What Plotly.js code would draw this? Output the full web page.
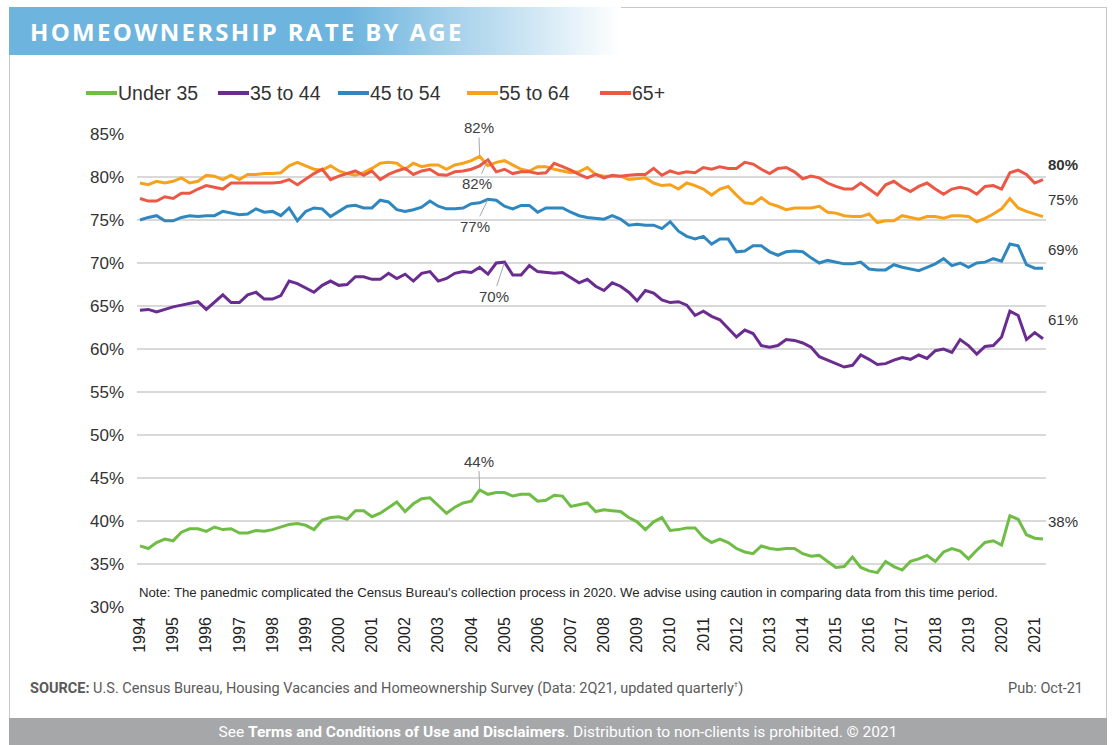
<!DOCTYPE html>
<html>
<head>
<meta charset="utf-8">
<script src="https://cdn.plot.ly/plotly-3.0.1.min.js"></script>
<style>
  html, body { margin:0; padding:0; background:#fff; width:1116px; height:745px; overflow:hidden; }
  #chart { position:absolute; left:0; top:0; width:1116px; height:745px; }
  .frame { position:absolute; background:#c9c9c9; z-index:5; }
  #header { position:absolute; left:9px; top:7px; width:612px; height:48px; z-index:6;
    background:linear-gradient(to right, #6db4de 0%, #6db4de 55%, #ffffff 100%); }
  #header span { position:absolute; left:21px; top:8px; color:#fff; font-family:"Open Sans", sans-serif;
    font-weight:700; font-size:24px; letter-spacing:2.3px; white-space:nowrap; }
  #source { position:absolute; left:30px; top:680px; font-family:Roboto, sans-serif; font-size:14.5px; color:#5a5a5a; z-index:6; white-space:nowrap; }
  #pub { position:absolute; right:33px; top:680px; font-family:Roboto, sans-serif; font-size:14.5px; color:#5a5a5a; z-index:6; }
  #footer { position:absolute; left:9px; top:718px; width:1098px; height:27px; background:#a6a7a9; z-index:6;
    color:#fff; font-family:Roboto, sans-serif; font-size:15.5px; text-align:center; line-height:29px; white-space:nowrap; }
</style>
</head>
<body>
<div id="chart"></div>
<div class="frame" style="left:9px; top:7px; width:1098px; height:1px;"></div>
<div class="frame" style="left:9px; top:55px; width:1px; height:663px;"></div>
<div class="frame" style="left:1106px; top:7px; width:1px; height:711px;"></div>
<div id="header"><span>HOMEOWNERSHIP RATE BY AGE</span></div>
<div id="source"><b>SOURCE:</b> U.S. Census Bureau, Housing Vacancies and Homeownership Survey (Data: 2Q21, updated quarterly<sup style="font-size:8px">†</sup>)</div>
<div id="pub">Pub: Oct-21</div>
<div id="footer">See <b>Terms and Conditions of Use and Disclaimers</b>. Distribution to non-clients is prohibited. © 2021</div>
<script>
// Quarterly data, 1994 Q1 – 2021 Q2
const startYear = 1994;
const seriesNames = ["Under 35", "35 to 44", "45 to 54", "55 to 64", "65+"];
const seriesColors = ["#6fbd45", "#6a2d8f", "#2f87c0", "#f8a21c", "#ec5846"];

const under35 = [
 37.1,36.8,37.5,37.9, 37.7,38.7,39.1,39.1, 38.8,39.3,39.0,39.1, 38.6,38.6,38.9,38.8,
 39.0,39.3,39.6,39.7, 39.5,39.0,40.1,40.4, 40.5,40.2,41.2,41.2, 40.5,40.9,41.6,42.2,
 41.1,42.0,42.6,42.7, 41.8,40.9,41.6,42.1, 42.3,43.6,43.1,43.3, 43.3,42.9,43.1,43.1,
 42.3,42.4,43.0,42.9, 41.7,41.9,42.1,41.1, 41.3,41.2,41.1,40.4, 39.9,39.0,39.9,40.4,
 38.9,39.0,39.2,39.2, 38.1,37.5,37.9,37.5, 36.8,36.4,36.2,37.1, 36.8,36.7,36.8,36.8,
 36.2,35.9,36.0,35.3, 34.6,34.7,35.8,34.6, 34.2,34.0,35.3,34.7, 34.3,35.3,35.6,36.0,
 35.3,36.4,36.8,36.5, 35.6,36.6,37.5,37.7, 37.2,40.6,40.2,38.4, 38.0,37.9];

const age35to44 = [
 64.5,64.6,64.3,64.6, 64.9,65.1,65.3,65.5, 64.6,65.4,66.3,65.4, 65.4,66.3,66.6,65.8,
 65.8,66.2,67.9,67.6, 67.1,66.6,67.4,67.9, 67.4,67.5,68.4,68.4, 68.1,68.1,68.8,68.2,
 68.7,67.9,68.8,69.0, 67.9,68.2,68.8,69.0, 68.9,69.5,68.7,70.0, 70.1,68.6,68.6,69.7,
 69.0,68.9,68.8,68.9, 68.3,67.7,68.1,67.3, 66.8,67.7,67.3,66.6, 65.6,66.8,66.5,65.7,
 65.4,65.5,65.1,63.9, 64.4,63.8,63.4,62.4, 61.4,62.2,61.8,60.4, 60.2,60.4,61.1,61.0,
 60.7,60.2,59.1,58.7, 58.3,57.9,58.1,59.3, 58.8,58.2,58.3,58.7, 59.0,58.8,59.3,58.9,
 59.8,60.0,59.6,61.1, 60.4,59.4,60.3,60.4, 61.4,64.4,63.9,61.1, 61.9,61.2];

const age45to54 = [
 75.0,75.3,75.5,74.9, 74.9,75.3,75.5,75.4, 75.5,75.5,76.0,75.8, 75.6,75.7,76.3,75.9,
 76.0,75.5,76.4,74.9, 76.0,76.4,76.3,75.4, 76.0,76.6,76.7,76.4, 76.4,77.3,77.1,76.2,
 76.0,76.2,76.5,77.2, 76.6,76.3,76.3,76.4, 76.9,77.0,77.4,77.3, 76.6,76.3,76.7,76.7,
 75.9,76.4,76.4,76.4, 75.9,75.5,75.3,75.2, 75.1,75.5,75.1,74.4, 74.5,74.4,74.4,74.0,
 74.8,73.7,73.1,72.8, 73.1,72.2,72.8,72.8, 71.3,71.4,72.0,72.0, 71.3,70.9,71.3,71.4,
 71.3,70.6,70.0,70.3, 70.1,69.9,69.9,70.1, 69.3,69.2,69.2,69.8, 69.5,69.3,69.1,69.5,
 69.9,70.5,69.7,70.0, 69.5,70.0,70.1,70.5, 70.2,72.2,72.0,69.8, 69.4,69.4];

const age55to64 = [
 79.3,79.1,79.5,79.3, 79.5,79.9,79.3,79.5, 80.2,80.1,79.7,80.2, 79.7,80.3,80.3,80.4,
 80.4,80.5,81.3,81.7, 81.3,80.9,80.8,81.3, 80.7,80.4,80.2,80.5, 81.0,81.6,81.7,81.6,
 80.9,81.6,81.2,81.4, 81.4,80.9,81.4,81.6, 81.9,82.4,81.3,81.7, 81.9,81.4,80.9,80.7,
 81.2,81.2,80.9,80.7, 80.5,80.6,81.1,80.3, 80.1,80.1,80.1,79.7, 79.8,79.9,79.3,79.0,
 79.1,78.6,79.3,79.0, 78.6,77.9,78.6,78.9, 77.9,77.0,76.9,77.6, 76.9,76.6,76.2,76.4,
 76.4,76.4,76.6,75.9, 75.8,75.5,75.4,75.4, 75.7,74.7,74.9,74.9, 75.5,75.3,75.1,75.4,
 75.4,75.2,75.5,75.5, 75.4,74.8,75.2,75.7, 76.3,77.5,76.4,76.0, 75.7,75.4];

const age65plus = [
 77.5,77.2,77.2,77.7, 77.5,78.1,78.1,78.6, 79.0,78.8,78.6,79.3, 79.3,79.3,79.3,79.3,
 79.3,79.4,79.7,79.1, 79.8,80.4,80.9,79.7, 80.1,80.4,80.7,80.2, 80.7,79.7,80.3,80.7,
 81.0,80.3,80.7,80.9, 80.3,80.2,80.6,80.7, 80.9,81.3,82.0,80.6, 80.9,80.4,80.6,80.6,
 80.4,80.5,81.6,81.2, 80.8,80.3,79.9,80.3, 79.9,80.2,80.1,80.2, 80.3,80.3,81.0,80.2,
 80.7,80.4,80.6,80.5, 81.1,80.9,81.2,81.0, 81.0,81.7,81.5,80.9, 80.4,81.0,81.1,80.6,
 79.8,80.1,79.9,79.3, 78.9,78.6,78.6,79.3, 78.6,77.9,79.1,79.5, 78.8,78.3,78.9,79.3,
 78.6,78.0,78.6,78.8, 78.6,78.0,78.9,79.0, 78.6,80.5,80.8,80.3, 79.3,79.7];

const yearTicks = [];
for (let y = 1994; y <= 2021; y++) yearTicks.push(y);
const yTickVals = [30,35,40,45,50,55,60,65,70,75,80,85];

const allSeries = [under35, age35to44, age45to54, age55to64, age65plus];
const xq = under35.map((_, i) => startYear + i / 4);

const traces = allSeries.map((vals, k) => ({
  x: xq, y: vals, type: 'scatter', mode: 'lines', name: seriesNames[k],
  line: {color: seriesColors[k], width: 3}, hoverinfo: 'skip'
}));

function argmax(a) { let m = 0; for (let i = 1; i < a.length; i++) if (a[i] > a[m]) m = i; return m; }

// plot area in pixels (used to place the hand-made legend)
const M = {l: 137, r: 70, t: 134, b: 138};
const W = 1116, H = 745;
const pw = W - M.l - M.r, ph = H - M.t - M.b;
const px2paperX = X => (X - M.l) / pw;
const px2paperY = Y => (H - M.b - Y) / ph;

const annotations = [];
const shapes = [];

// legend (manual, one line sample + text per series)
const legendStartX = [86, 218, 338, 467, 600];
const legendY = 93;
seriesNames.forEach((nm, k) => {
  const x0 = legendStartX[k];
  shapes.push({type: 'line', xref: 'paper', yref: 'paper', x0: px2paperX(x0), x1: px2paperX(x0 + 31),
    y0: px2paperY(legendY), y1: px2paperY(legendY), line: {color: seriesColors[k], width: 4}});
  annotations.push({xref: 'paper', yref: 'paper', x: px2paperX(x0 + 31), y: px2paperY(legendY), xanchor: 'left', yanchor: 'middle',
    showarrow: false, text: nm, borderpad: 0, font: {family: 'Liberation Sans, Arial, sans-serif', size: 19.5, color: '#333'}});
});

// peak labels: [seriesIndex, ax, ay]
const peakCfg = [[3, -1, -29], [4, -11, 24], [2, -13, 27], [1, -11, 34], [0, -1, -29]];
peakCfg.forEach(([k, ax, ay]) => {
  const i = argmax(allSeries[k]);
  annotations.push({x: xq[i], y: allSeries[k][i], xref:'x', yref:'y', text: Math.round(allSeries[k][i]) + '%',
    showarrow: true, arrowhead: 0, arrowwidth: 1, arrowcolor: '#a8a8a8', ax: ax, ay: ay, standoff: 1,
    font: {family: 'Liberation Sans, Arial, sans-serif', size: 15, color: '#404040'}});
});
// end labels
const endShift = [18, 19, 19, 17, 15];
allSeries.forEach((vals, k) => {
  const i = vals.length - 1;
  annotations.push({x: xq[i], y: vals[i], xref:'x', yref:'y', text: (k === 4 ? '<b>' : '') + Math.round(vals[i]) + '%' + (k === 4 ? '</b>' : ''),
    showarrow: false, xanchor: 'left', yanchor: 'middle', xshift: 3, yshift: endShift[k],
    font: {family: 'Liberation Sans, Arial, sans-serif', size: 15, color: '#333'}});
});
annotations.push({xref:'paper', yref:'paper', x: 0, y: 0.03, xanchor:'left', yanchor:'middle', showarrow:false,
  text: "Note: The panedmic complicated the Census Bureau's collection process in 2020. We advise using caution in comparing data from this time period.",
  font: {family:'Liberation Sans, Arial, sans-serif', size: 13.2, color:'#262626'}});

const layout = {
  width: W, height: H,
  margin: M,
  paper_bgcolor: '#fff', plot_bgcolor: '#fff',
  showlegend: false,
  xaxis: {range: [startYear - 0.09, 2021.34], tickvals: yearTicks, ticktext: yearTicks.map(String), tickangle: -90,
    showgrid: false, zeroline: false, showline: false, ticks: '', ticklabelstandoff: 6,
    tickfont: {family: 'Liberation Sans, Arial, sans-serif', size: 16, color: '#222'}},
  yaxis: {range: [30, 85], tickvals: yTickVals, ticktext: yTickVals.map(v => v + '%'),
    showgrid: true, gridcolor: '#d9d9d9', gridwidth: 1.5, zeroline: false, showline: false, ticks: '', ticklabelstandoff: 12,
    tickfont: {family: 'Liberation Sans, Arial, sans-serif', size: 17, color: '#333'}},
  shapes: shapes,
  annotations: annotations
};

Plotly.newPlot('chart', traces, layout, {staticPlot: true, displayModeBar: false});
</script>
</body>
</html>
